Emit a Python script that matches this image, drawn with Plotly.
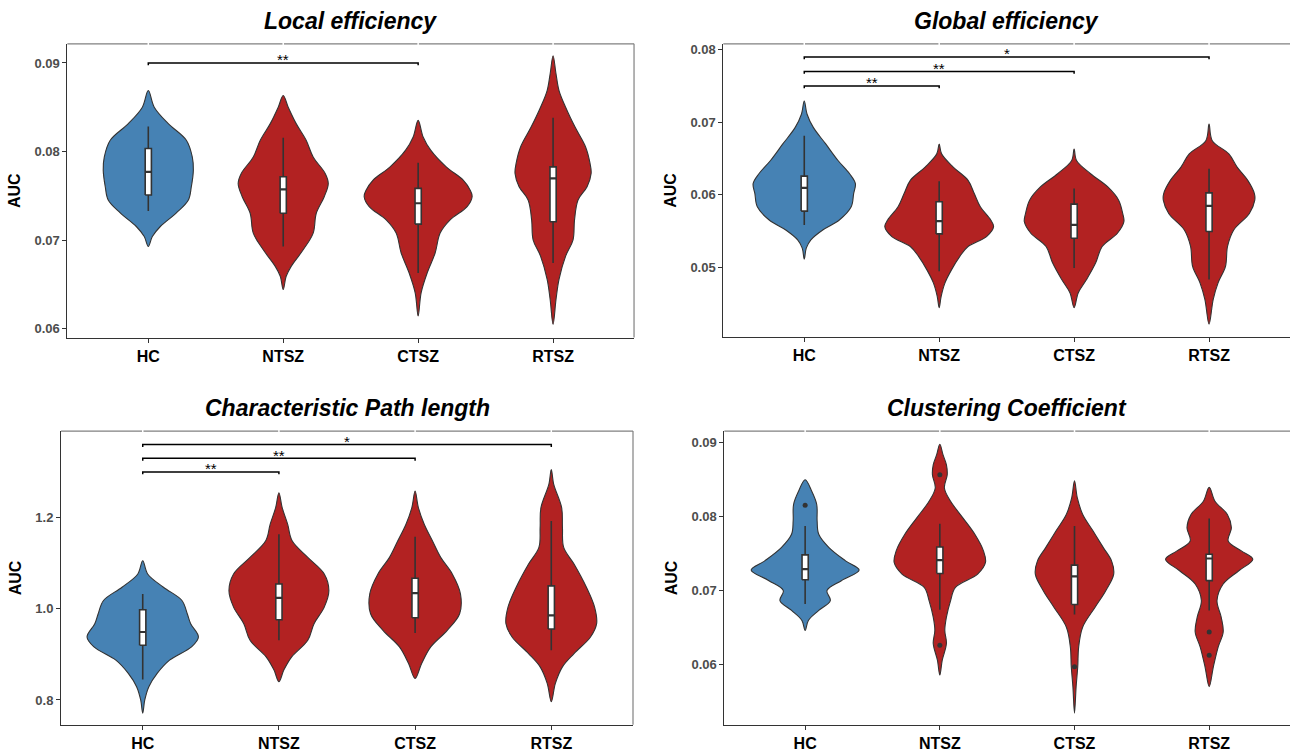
import plotly.graph_objects as go

# ---------------- data ----------------
groups = ["HC", "NTSZ", "CTSZ", "RTSZ"]
group_pos = [1, 2, 3, 4]
titles = ["Local efficiency", "Global efficiency", "Characteristic Path length", "Clustering Coefficient"]

# violin outlines: value levels and half-widths (category units)
le_hc_y = [0.06928, 0.07040, 0.07153, 0.07307, 0.07453, 0.07602, 0.07790, 0.07939, 0.08127, 0.08315, 0.08501, 0.08689]
le_hc_w = [0, 0.030, 0.089, 0.208, 0.297, 0.319, 0.334, 0.326, 0.282, 0.148, 0.044, 0]
le_nt_y = [0.06441, 0.06591, 0.06703, 0.0689, 0.07079, 0.07303, 0.0749, 0.0764, 0.07753, 0.07939, 0.08127, 0.08315, 0.08501, 0.08633]
le_nt_w = [0, 0.022, 0.059, 0.148, 0.222, 0.245, 0.304, 0.334, 0.311, 0.222, 0.170, 0.096, 0.037, 0]
le_ct_y = [0.06142, 0.06404, 0.06629, 0.06854, 0.07079, 0.07228, 0.07378, 0.0749, 0.07566, 0.07678, 0.07827, 0.08015, 0.08164, 0.08352]
le_ct_w = [0, 0.022, 0.067, 0.126, 0.163, 0.237, 0.363, 0.400, 0.385, 0.334, 0.208, 0.093, 0.037, 0]
le_rt_y = [0.06048, 0.06331, 0.06556, 0.06818, 0.07003, 0.07228, 0.07453, 0.07602, 0.07753, 0.07865, 0.08052, 0.08276, 0.08501, 0.08689, 0.08876, 0.09082]
le_rt_w = [0, 0.022, 0.044, 0.093, 0.148, 0.159, 0.185, 0.252, 0.282, 0.274, 0.241, 0.163, 0.093, 0.044, 0.022, 0]

ge_hc_y = [0.05114, 0.05265, 0.05379, 0.05515, 0.05652, 0.05834, 0.06017, 0.06154, 0.0629, 0.06473, 0.06701, 0.06929, 0.07111, 0.07293]
ge_hc_w = [0, 0.015, 0.049, 0.137, 0.260, 0.348, 0.366, 0.379, 0.336, 0.250, 0.159, 0.067, 0.021, 0]
ge_nt_y = [0.04444, 0.04604, 0.04786, 0.04968, 0.05151, 0.05287, 0.05424, 0.05561, 0.05652, 0.05834, 0.06017, 0.06199, 0.06382, 0.06564, 0.06701]
ge_nt_w = [0, 0.015, 0.043, 0.092, 0.153, 0.214, 0.351, 0.403, 0.382, 0.305, 0.260, 0.214, 0.104, 0.018, 0]
ge_ct_y = [0.04444, 0.04649, 0.04832, 0.05059, 0.05287, 0.0547, 0.05629, 0.05743, 0.05926, 0.06108, 0.0629, 0.06473, 0.06632]
ge_ct_w = [0, 0.031, 0.092, 0.159, 0.208, 0.321, 0.369, 0.360, 0.330, 0.250, 0.122, 0.018, 0]
ge_rt_y = [0.04216, 0.04558, 0.04786, 0.05014, 0.05287, 0.05515, 0.05743, 0.05926, 0.06017, 0.06199, 0.06382, 0.06564, 0.06746, 0.06974]
ge_rt_w = [0, 0.031, 0.067, 0.122, 0.137, 0.183, 0.299, 0.339, 0.336, 0.287, 0.208, 0.147, 0.024, 0]

cp_hc_y = [0.7709, 0.8, 0.8291, 0.8582, 0.8873, 0.9164, 0.9382, 0.9673, 0.9891, 1.0182, 1.0473, 1.0764, 1.1055]
cp_hc_w = [0, 0.015, 0.045, 0.106, 0.197, 0.358, 0.409, 0.352, 0.327, 0.288, 0.152, 0.036, 0]
cp_nt_y = [0.84, 0.8655, 0.8945, 0.9309, 0.9673, 1.0036, 1.04, 1.0764, 1.1127, 1.1491, 1.1855, 1.2218, 1.2545]
cp_nt_w = [0, 0.036, 0.094, 0.212, 0.258, 0.333, 0.367, 0.333, 0.212, 0.097, 0.064, 0.024, 0]
cp_ct_y = [0.8473, 0.88, 0.9164, 0.9527, 0.9891, 1.0327, 1.0764, 1.1127, 1.1491, 1.1855, 1.2218, 1.2582]
cp_ct_w = [0, 0.048, 0.115, 0.236, 0.327, 0.333, 0.273, 0.188, 0.127, 0.067, 0.024, 0]
cp_rt_y = [0.7964, 0.8364, 0.8727, 0.9018, 0.9382, 0.9673, 1.0036, 1.0473, 1.0982, 1.1345, 1.1782, 1.2218, 1.2727, 1.3055]
cp_rt_w = [0, 0.030, 0.082, 0.167, 0.288, 0.333, 0.318, 0.258, 0.167, 0.091, 0.082, 0.076, 0.018, 0]

cc_hc_y = [0.06461, 0.06595, 0.0673, 0.06864, 0.06998, 0.07133, 0.07276, 0.07401, 0.0758, 0.0776, 0.07939, 0.08163, 0.08342, 0.08498]
cc_hc_w = [0, 0.024, 0.101, 0.187, 0.162, 0.269, 0.401, 0.300, 0.177, 0.101, 0.089, 0.086, 0.049, 0]
cc_nt_y = [0.05857, 0.06058, 0.06282, 0.06461, 0.0664, 0.06864, 0.07043, 0.07222, 0.07379, 0.07536, 0.0776, 0.07983, 0.08207, 0.08387, 0.08566, 0.087, 0.08834, 0.08978]
cc_nt_w = [0, 0.018, 0.049, 0.037, 0.049, 0.080, 0.116, 0.281, 0.339, 0.324, 0.260, 0.171, 0.080, 0.034, 0.055, 0.049, 0.024, 0]
cc_ct_y = [0.05342, 0.057, 0.05968, 0.06237, 0.06506, 0.06774, 0.06998, 0.07222, 0.07401, 0.0758, 0.07804, 0.08028, 0.08252, 0.08485]
cc_ct_w = [0, 0.012, 0.024, 0.031, 0.061, 0.153, 0.232, 0.291, 0.275, 0.214, 0.138, 0.061, 0.021, 0]
cc_rt_y = [0.057, 0.05968, 0.06237, 0.06439, 0.0664, 0.06864, 0.07088, 0.07267, 0.07424, 0.07536, 0.0767, 0.07849, 0.08028, 0.08207, 0.08395]
cc_rt_w = [0, 0.031, 0.067, 0.104, 0.089, 0.058, 0.104, 0.220, 0.324, 0.239, 0.141, 0.165, 0.135, 0.043, 0]

# box plots: per group (HC, NTSZ, CTSZ, RTSZ)
le_q1 = [0.07509, 0.07303, 0.0718, 0.07206]
le_med = [0.07771, 0.07573, 0.07416, 0.07697]
le_q3 = [0.08034, 0.07715, 0.07584, 0.07827]
le_lo = [0.07329, 0.06928, 0.06629, 0.06741]
le_hi = [0.08284, 0.08157, 0.07872, 0.08382]

ge_q1 = [0.05775, 0.05461, 0.05401, 0.05493]
ge_med = [0.06094, 0.05638, 0.05584, 0.05848]
ge_q3 = [0.06258, 0.05903, 0.05871, 0.06026]
ge_lo = [0.05584, 0.04945, 0.04991, 0.04832]
ge_hi = [0.06815, 0.06185, 0.06085, 0.06359]

cp_q1 = [0.92, 0.976, 0.9804, 0.9556]
cp_med = [0.9491, 1.024, 1.0342, 0.9855]
cp_q3 = [0.9978, 1.0545, 1.0669, 1.0502]
cp_lo = [0.8451, 0.9309, 0.9469, 0.9091]
cp_hi = [1.0327, 1.1636, 1.1578, 1.1927]

cc_q1 = [0.07146, 0.07231, 0.0681, 0.07133]
cc_med = [0.0729, 0.0741, 0.07191, 0.07433]
cc_q3 = [0.07482, 0.07589, 0.07343, 0.07491]
cc_lo = [0.06819, 0.06739, 0.06676, 0.0673]
cc_hi = [0.07872, 0.07903, 0.07872, 0.07975]

# outliers (clustering coefficient)
cc_out_x = [1, 2, 2, 3, 4, 4]
cc_out_y = [0.08154, 0.08566, 0.0626, 0.05968, 0.06439, 0.06125]

# significance brackets: (from group, to group, level, label)
le_brackets = [(1, 3, 0.0900, "**")]
ge_brackets = [(1, 2, 0.0750, "**"), (1, 3, 0.0770, "**"), (1, 4, 0.0790, "*")]
cp_brackets = [(1, 2, 1.30, "**"), (1, 3, 1.33, "**"), (1, 4, 1.36, "*")]
cc_brackets = []

# y axes
le_ticks = [0.06, 0.07, 0.08, 0.09]
ge_ticks = [0.05, 0.06, 0.07, 0.08]
cp_ticks = [0.8, 1.0, 1.2]
cc_ticks = [0.06, 0.07, 0.08, 0.09]

# ---------------- style / layout ----------------
W, H = 1290, 752
BLUE = "#4682B4"
RED = "#B22222"
OUT = "#333333"
FONT = "Liberation Sans, Arial, sans-serif"
BOX_HW = 0.023
group_colors = [BLUE, RED, RED, RED]

panels = [
    dict(title=titles[0], violins=[(le_hc_y, le_hc_w), (le_nt_y, le_nt_w), (le_ct_y, le_ct_w), (le_rt_y, le_rt_w)],
         box=(le_q1, le_med, le_q3, le_lo, le_hi), brackets=le_brackets, ticks=le_ticks, fmt=".2f",
         yrange=[0.05899, 0.09217], xdom=[0.0522, 0.4915], ydom=[0.5501, 0.9428], right=True),
    dict(title=titles[1], violins=[(ge_hc_y, ge_hc_w), (ge_nt_y, ge_nt_w), (ge_ct_y, ge_ct_w), (ge_rt_y, ge_rt_w)],
         box=(ge_q1, ge_med, ge_q3, ge_lo, ge_hi), brackets=ge_brackets, ticks=ge_ticks, fmt=".2f",
         yrange=[0.04036, 0.08082], xdom=[0.5607, 1.0], ydom=[0.5505, 0.9428], right=False),
    dict(title=titles[2], violins=[(cp_hc_y, cp_hc_w), (cp_nt_y, cp_nt_w), (cp_ct_y, cp_ct_w), (cp_rt_y, cp_rt_w)],
         box=(cp_q1, cp_med, cp_q3, cp_lo, cp_hi), brackets=cp_brackets, ticks=cp_ticks, fmt=".1f",
         yrange=[0.7455, 1.3898], xdom=[0.0473, 0.4907], ydom=[0.0323, 0.4251], right=True),
    dict(title=titles[3], violins=[(cc_hc_y, cc_hc_w), (cc_nt_y, cc_nt_w), (cc_ct_y, cc_ct_w), (cc_rt_y, cc_rt_w)],
         box=(cc_q1, cc_med, cc_q3, cc_lo, cc_hi), brackets=cc_brackets, ticks=cc_ticks, fmt=".2f",
         yrange=[0.05183, 0.09157], xdom=[0.5615, 1.0], ydom=[0.0323, 0.4251], right=False,
         outliers=(cc_out_x, cc_out_y)),
]

fig = go.Figure()
shapes = []
annotations = []
layout = {}


def add(tr):
    fig.add_trace(tr)


for i, p in enumerate(panels):
    n = "" if i == 0 else str(i + 1)
    xa, ya = "x" + n, "y" + n
    common = dict(xaxis=xa, yaxis=ya, hoverinfo="skip", showlegend=False)
    # violins
    for pos, color, (ys, ws) in zip(group_pos, group_colors, p["violins"]):
        xs = [pos + w for w in ws] + [pos - w for w in ws[::-1][1:]]
        yy = list(ys) + list(ys[::-1][1:])
        add(go.Scatter(x=xs, y=yy, mode="lines", fill="toself", fillcolor=color,
                       line=dict(color=OUT, width=1.1, shape="spline", smoothing=1.0), **common))
    # boxes (whiskers, white box, median)
    q1, med, q3, lo, hi = p["box"]
    for j, pos in enumerate(group_pos):
        add(go.Scatter(x=[pos, pos, None, pos, pos], y=[lo[j], q1[j], None, q3[j], hi[j]], mode="lines",
                       line=dict(color=OUT, width=1.6), **common))
        add(go.Scatter(x=[pos - BOX_HW, pos + BOX_HW, pos + BOX_HW, pos - BOX_HW, pos - BOX_HW],
                       y=[q1[j], q1[j], q3[j], q3[j], q1[j]], mode="lines", fill="toself",
                       fillcolor="white", line=dict(color=OUT, width=1.6), **common))
        add(go.Scatter(x=[pos - BOX_HW, pos + BOX_HW], y=[med[j], med[j]], mode="lines",
                       line=dict(color=OUT, width=2.2), **common))
    if "outliers" in p:
        ox, oy = p["outliers"]
        add(go.Scatter(x=ox, y=oy, mode="markers", marker=dict(color=OUT, size=5), **common))
    # brackets
    span = p["yrange"][1] - p["yrange"][0]
    drop = span * 0.008
    for a, b, lvl, lab in p["brackets"]:
        add(go.Scatter(x=[a, a, b, b], y=[lvl - drop, lvl, lvl, lvl - drop], mode="lines",
                       line=dict(color="black", width=1.5), **common))
        annotations.append(dict(x=(a + b) / 2, y=lvl, xref=xa, yref=ya, text=lab, showarrow=False,
                                yanchor="middle", yshift=3, font=dict(family=FONT, size=15, color="black")))
    # axes
    layout["xaxis" + n] = dict(domain=p["xdom"], anchor=ya, range=[0.4, 4.6], tickvals=group_pos,
                               ticktext=groups, showline=True, linecolor=OUT, linewidth=1,
                               ticks="outside", ticklen=4, tickcolor=OUT, tickwidth=1,
                               showgrid=False, zeroline=False, fixedrange=True,
                               tickfont=dict(family=FONT, size=16, color="black", weight="bold"))
    layout["yaxis" + n] = dict(domain=p["ydom"], anchor=xa, range=p["yrange"], tickvals=p["ticks"],
                               tickformat=p["fmt"], showline=True, linecolor=OUT, linewidth=1,
                               ticks="outside", ticklen=4, tickcolor=OUT, tickwidth=1,
                               showgrid=False, zeroline=False, fixedrange=True,
                               tickfont=dict(family=FONT, size=13, color="#4D4D4D", weight="bold"),
                               title=dict(text="AUC", standoff=9,
                                          font=dict(family=FONT, size=16, color="black", weight="bold")))
    # panel border (top / right) in grey, with white gaps at category positions
    shapes.append(dict(type="line", xref=xa + " domain", yref=ya + " domain", x0=0, x1=1, y0=1, y1=1,
                       line=dict(color="#808080", width=1.2)))
    if p["right"]:
        shapes.append(dict(type="line", xref=xa + " domain", yref=ya + " domain", x0=1, x1=1, y0=0, y1=1,
                           line=dict(color="#808080", width=1.2)))
    for pos in group_pos:
        shapes.append(dict(type="line", xref=xa, yref=ya + " domain", x0=pos, x1=pos, y0=0.99, y1=1.01,
                           line=dict(color="white", width=1.5)))
    # panel title
    annotations.append(dict(x=(p["xdom"][0] + p["xdom"][1]) / 2, y=p["ydom"][1] + 0.031, xref="paper", yref="paper",
                            text=p["title"], showarrow=False, yanchor="middle", xanchor="center",
                            font=dict(family=FONT, size=23, color="black", weight="bold", style="italic")))

fig.update_layout(width=W, height=H, margin=dict(l=0, r=0, t=0, b=0), plot_bgcolor="white",
                  paper_bgcolor="white", shapes=shapes, annotations=annotations, showlegend=False,
                  **layout)
fig.write_html("out.html", config={"displayModeBar": False},
               post_script="document.body.style.margin='0';document.body.style.overflow='hidden';")
